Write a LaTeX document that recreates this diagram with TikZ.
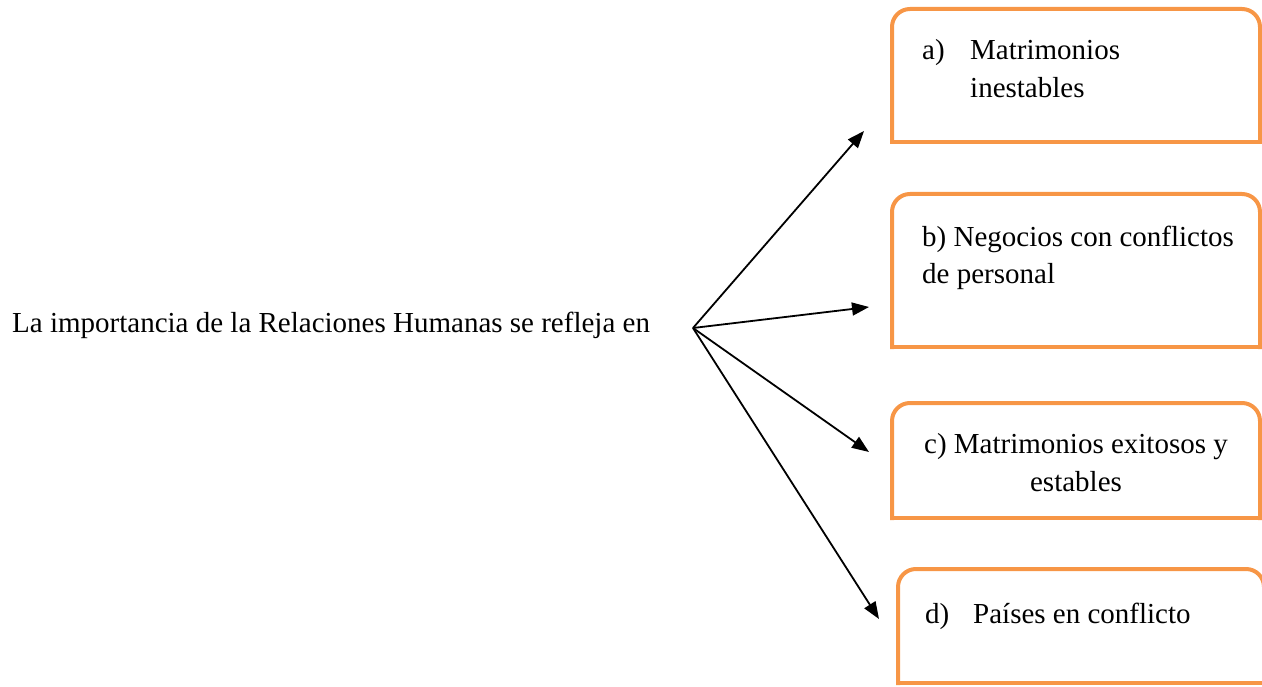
\documentclass[tikz,border=0pt]{standalone}
\usepackage{fontspec}
\setmainfont{Liberation Serif}
\usetikzlibrary{arrows.meta}
\definecolor{boxorange}{HTML}{F79646}
\tikzset{
  txt/.style={inner sep=0pt, font=\fontsize{29}{38}\selectfont, text=black},
  frame/.style={draw=boxorange, line width=4pt, line cap=rect},
  conn/.style={draw=black, line width=1.8pt, -{Triangle[length=17pt,width=13pt]}}
}
\begin{document}
\begin{tikzpicture}[x=1pt,y=-1pt]
\useasboundingbox (0,0) rectangle (1262,687);
% main text
\node[txt, anchor=base west] (main) at (12,332) {La importancia de la Relaciones Humanas se refleja en};
\coordinate (origin) at (693,328);
% box frames
\draw[frame, rounded corners=18pt] (892,142) -- (892,9) -- (1260,9) -- (1260,142);
\draw[frame] (892,142) -- (1260,142);
\draw[frame, rounded corners=18pt] (892,347) -- (892,194) -- (1260,194) -- (1260,347);
\draw[frame] (892,347) -- (1260,347);
\draw[frame, rounded corners=18pt] (892,518) -- (892,403) -- (1260,403) -- (1260,518);
\draw[frame] (892,518) -- (1260,518);
\draw[frame, rounded corners=18pt] (898,683) -- (898,569) -- (1264,569) -- (1264,683);
\draw[frame] (898,683) -- (1264,683);
% box texts (base anchor = baseline of last line)
\node[txt, anchor=base west, align=left] (a) at (922,98) {\makebox[48pt][l]{a)}Matrimonios\\\hspace*{48pt}inestables};
\node[txt, anchor=base west, align=left] (b) at (922,284) {b) Negocios con conflictos\\de personal};
\node[txt, anchor=base, align=center] (c) at (1076,491) {c) Matrimonios exitosos y\\estables};
\node[txt, anchor=base west] (d) at (925,623) {\makebox[48pt][l]{d)}Países en conflicto};
% arrow tips
\coordinate (ta) at (864,131);
\coordinate (tb) at (869,307);
\coordinate (tc) at (869,452);
\coordinate (td) at (879,619);
\draw[conn] (origin) -- (ta);
\draw[conn] (origin) -- (tb);
\draw[conn] (origin) -- (tc);
\draw[conn] (origin) -- (td);
\end{tikzpicture}
\end{document}
